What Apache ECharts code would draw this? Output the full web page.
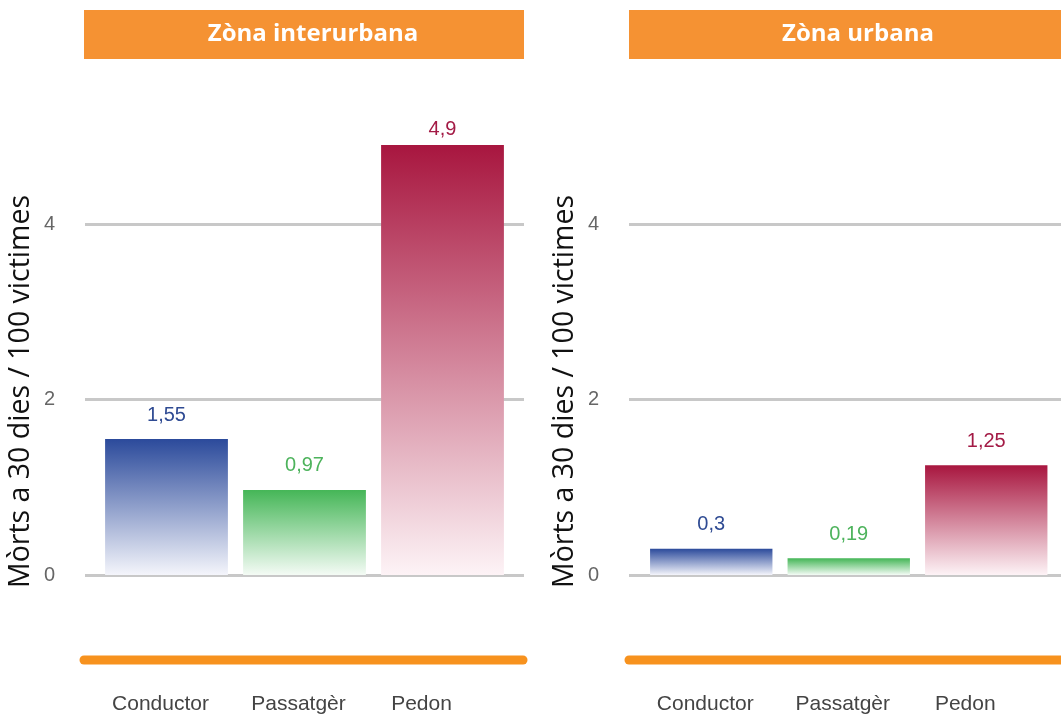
<!DOCTYPE html>
<html><head><meta charset="utf-8">
<script src="https://cdn.jsdelivr.net/npm/echarts@6/dist/echarts.min.js"></script>
<style>html,body{margin:0;padding:0;background:#fff}#c{width:1061px;height:715px}</style>
</head><body><div id="c"></div>
<script>
const categories = ['Conductor', 'Passatgèr', 'Pedon'];
const interurbana = [1.55, 0.97, 4.9];
const urbana = [0.3, 0.19, 1.25];
const panelTitles = ['Zòna interurbana', 'Zòna urbana'];
const yAxisName = 'Mòrts a 30 dies / 100 victimes';
const yTicks = [0, 2, 4];

const topColors = ['#2b4a9b', '#45b657', '#a8163f'];
const bottomColors = ['#f4f5fb', '#f4fbf5', '#fdf3f6'];
const labelColors = ['#2f4b93', '#4db35c', '#a31a45'];
const catLabelShift = [12, 12, 42];

function grad(i) {
  return new echarts.graphic.LinearGradient(0, 0, 0, 1, [
    {offset: 0, color: topColors[i]},
    {offset: 1, color: bottomColors[i]}
  ]);
}
function fmt(v) { return String(v).replace('.', ','); }

const chart = echarts.init(document.getElementById('c'));
const gridTop = 224, gridBottom = 140;
const frames = [{left: 85, right: 537}, {left: 629, right: -7}];
const barFrames = [{left: 97.5, right: 549.5}, {left: 642.5, right: 6}];

const grids = [], xAxes = [], yAxes = [], series = [];
[interurbana, urbana].forEach((vals, p) => {
  grids.push({left: frames[p].left, right: frames[p].right, top: gridTop, bottom: gridBottom});
  grids.push({left: barFrames[p].left, right: barFrames[p].right, top: gridTop, bottom: gridBottom});
  const g0 = p * 2, g1 = p * 2 + 1;
  xAxes.push({gridIndex: g0, type: 'category', data: categories, show: false});
  xAxes.push({gridIndex: g1, type: 'category',
    data: categories.map((c, i) => ({value: c, textStyle: {padding: [0, catLabelShift[i], 0, 0]}})),
    axisLine: {show: false}, axisTick: {show: false},
    axisLabel: {margin: 119, color: '#444', fontSize: 21, fontFamily: 'Liberation Sans'}});
  yAxes.push({gridIndex: g0, type: 'value', min: 0, max: yTicks[yTicks.length - 1], interval: 2,
    name: yAxisName, nameLocation: 'middle', nameGap: 50,
    nameTextStyle: {color: '#111', fontSize: 28.5, fontFamily: 'Open Sans', padding: [0, 0, 0, 16]},
    axisLine: {show: false}, axisTick: {show: false},
    axisLabel: {margin: 30, color: '#666', fontSize: 20, fontFamily: 'Liberation Sans'},
    splitLine: {lineStyle: {color: '#c8c8c8', width: 3}}});
  yAxes.push({gridIndex: g1, type: 'value', min: 0, max: yTicks[yTicks.length - 1], interval: 2,
    show: false, splitLine: {show: false}});
  series.push({
    type: 'bar', xAxisIndex: xAxes.length - 1, yAxisIndex: yAxes.length - 1,
    barWidth: '89%', clip: false, z: 3,
    data: vals.map((v, i) => ({
      value: v,
      itemStyle: {color: grad(i)},
      label: {show: true, position: 'top', distance: v > 4 ? 6 : 14,
        color: labelColors[i], fontSize: 20, fontFamily: 'Liberation Sans',
        formatter: (d) => fmt(d.value)}
    }))
  });
});

const graphics = [];
const headers = [{x: 84, w: 440}, {x: 629, w: 440}];
headers.forEach((h, p) => {
  graphics.push({type: 'rect', shape: {x: h.x, y: 10, width: h.w, height: 49},
    style: {fill: '#f59233'}, z: 10});
  graphics.push({type: 'text', x: h.x + h.w / 2 + 9, y: 34, z: 11,
    style: {text: panelTitles[p], fill: '#fff', font: 'bold 24px "Open Sans"',
      textAlign: 'center', textVerticalAlign: 'middle'}});
});
const lines = [{x1: 84, x2: 523}, {x1: 629, x2: 1075}];
lines.forEach(l => {
  graphics.push({type: 'line', shape: {x1: l.x1, y1: 660, x2: l.x2, y2: 660},
    style: {stroke: '#f7921e', lineWidth: 9, lineCap: 'round'}, z: 10});
});

chart.setOption({
  animation: false,
  grid: grids, xAxis: xAxes, yAxis: yAxes, series: series, graphic: graphics
});
</script></body></html>
